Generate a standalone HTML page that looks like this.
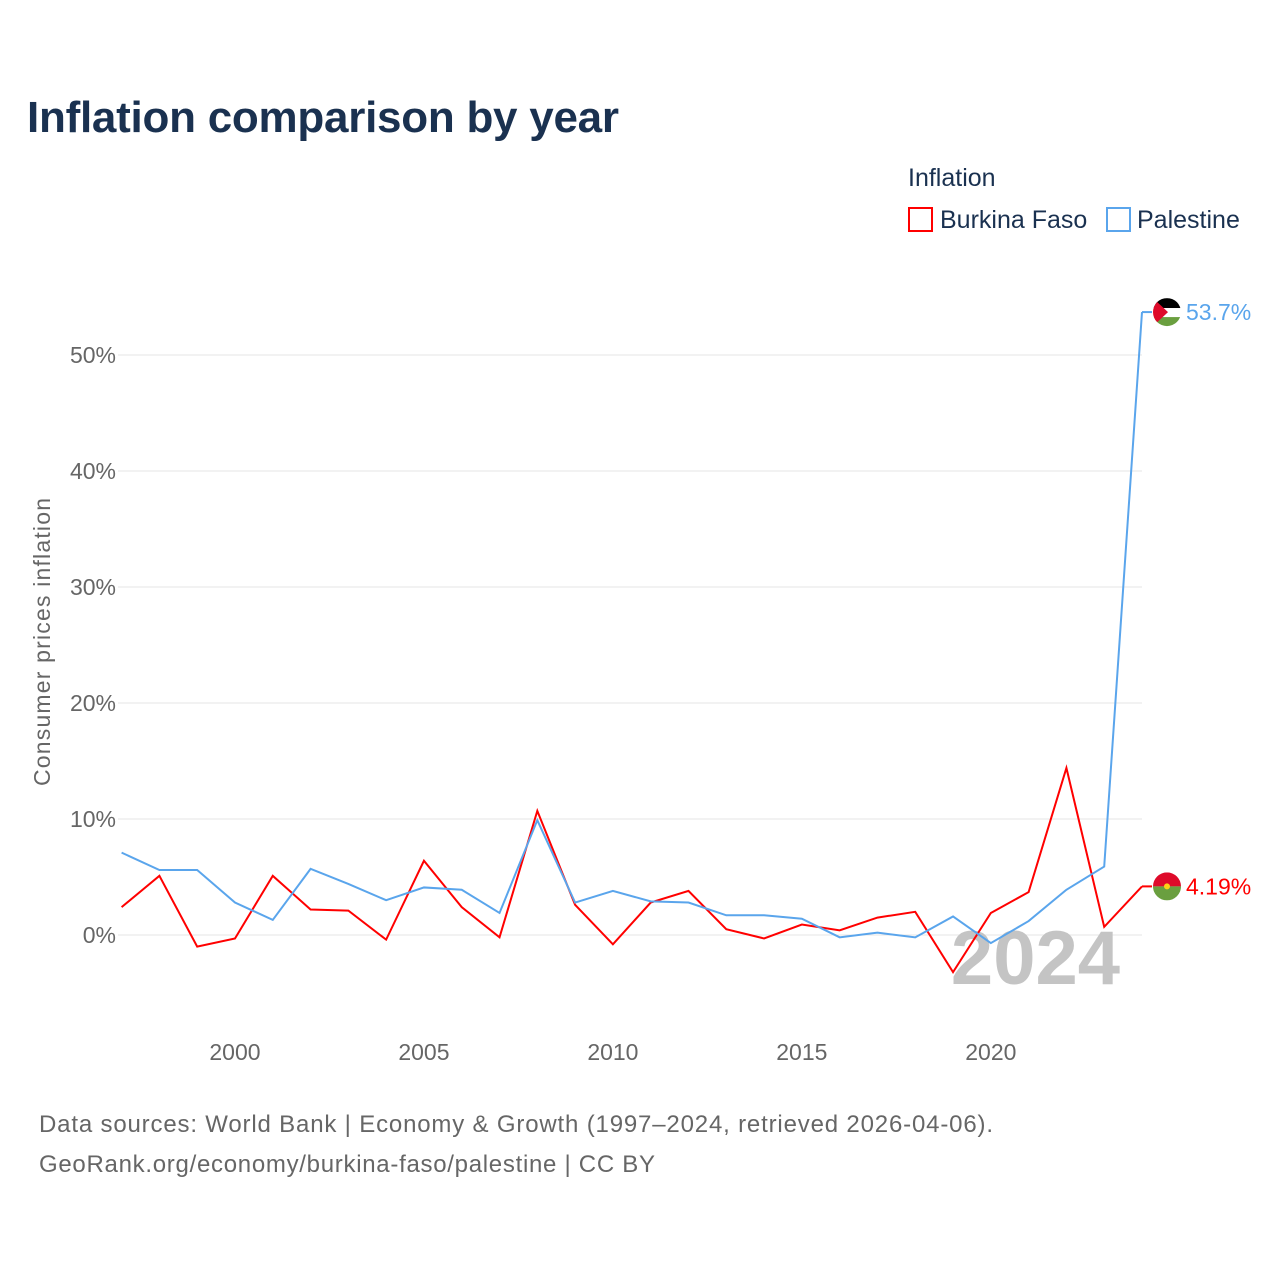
<!DOCTYPE html>
<html><head><meta charset="utf-8"><style>
body{margin:0;background:#fff;font-family:"Liberation Sans",sans-serif;}
#wrap{position:relative;width:1280px;height:1280px;overflow:hidden;}
</style></head><body>
<div id="wrap">
<svg id="chart" width="1280" height="1280" style="font-family:'Liberation Sans',sans-serif">
<text x="27" y="132" font-size="44" font-weight="bold" fill="#1a3150" textLength="592">Inflation comparison by year</text>
<text x="908" y="186" font-size="25" fill="#1a3150">Inflation</text>
<g><rect x="909" y="208" width="23" height="23" fill="none" stroke="#f00" stroke-width="2"/><text x="940" y="228" font-size="25" fill="#1a3150">Burkina Faso</text></g>
<g><rect x="1107" y="208" width="23" height="23" fill="none" stroke="#5aa5ec" stroke-width="2"/><text x="1137" y="228" font-size="25" fill="#1a3150">Palestine</text></g>
<text transform="translate(50,642) rotate(-90)" text-anchor="middle" font-size="23" fill="#666" textLength="288">Consumer prices inflation</text>
<g id="grid"></g><g id="yt"></g><g id="xt"></g>
<text x="1120" y="984" text-anchor="end" font-size="76" font-weight="bold" fill="#c4c4c4">2024</text>
<g id="series"></g><g id="ends"></g>
<text x="39" y="1132" font-size="24" fill="#666" textLength="954">Data sources: World Bank | Economy &amp; Growth (1997–2024, retrieved 2026-04-06).</text>
<text x="39" y="1172" font-size="24" fill="#666" textLength="616">GeoRank.org/economy/burkina-faso/palestine | CC BY</text>
</svg>
</div>
<script>
const years=[1997,1998,1999,2000,2001,2002,2003,2004,2005,2006,2007,2008,2009,2010,2011,2012,2013,2014,2015,2016,2017,2018,2019,2020,2021,2022,2023,2024];
const burkina=[2.4,5.1,-1.0,-0.3,5.1,2.2,2.1,-0.4,6.4,2.4,-0.2,10.7,2.6,-0.8,2.8,3.8,0.5,-0.3,0.9,0.4,1.5,2.0,-3.2,1.9,3.7,14.4,0.7,4.19];
const palestine=[7.1,5.6,5.6,2.8,1.3,5.7,4.4,3.0,4.1,3.9,1.9,9.9,2.8,3.8,2.9,2.8,1.7,1.7,1.4,-0.2,0.2,-0.2,1.6,-0.7,1.2,3.9,5.9,53.7];
const yTicks=[0,10,20,30,40,50];
const yLabels=["0%","10%","20%","30%","40%","50%"];
const xTicks=[2000,2005,2010,2015,2020];
const endLabels=["4.19%","53.7%"];
const NS="http://www.w3.org/2000/svg";
const xs=y=>121.6+(y-1997)*(1142-121.6)/27;
const ys=v=>935-v*11.6;
function mk(t,a,p){const e=document.createElementNS(NS,t);for(const k in a)e.setAttribute(k,a[k]);p.appendChild(e);return e;}
const g=document.getElementById('grid'),yt=document.getElementById('yt'),xt=document.getElementById('xt');
yTicks.forEach((v,i)=>{
 const l=mk('line',{x1:118,x2:1142,y1:ys(v),y2:ys(v),stroke:'#e6e6e6','stroke-width':1},g);
 
 
 const t=mk('text',{x:116,y:ys(v)+8,'text-anchor':'end','font-size':23,fill:'#666'},yt);
 t.textContent=yLabels[i];
 
 
});
xTicks.forEach(v=>{
 const t=mk('text',{x:xs(v),y:1060,'text-anchor':'middle','font-size':23,fill:'#666'},xt);
 t.textContent=v;
 
 
});
const S=document.getElementById('series'),E=document.getElementById('ends');
[[burkina,'#f00','burkina-faso',0],[palestine,'#5aa5ec','palestine',1]].forEach(([d,c,n,i])=>{
 const pts=d.map((v,k)=>xs(years[k])+','+ys(v)).join(' ');
 const p=mk('polyline',{points:pts,fill:'none',stroke:c,'stroke-width':2,'stroke-linejoin':'miter'},S);
 
 
 const last=d[d.length-1],lx=xs(years[years.length-1]),ly=ys(last);
 mk('line',{x1:lx,x2:lx+10,y1:ly,y2:ly,stroke:c,'stroke-width':2},E);
 const fg=mk('g',{},E);
 
 
 const cx=lx+25,cy=ly,r=14;
 const cp=mk('clipPath',{id:'cp'+i},fg);mk('circle',{cx:cx,cy:cy,r:r},cp);
 const gg=mk('g',{'clip-path':'url(#cp'+i+')'},fg);
 if(i==0){mk('rect',{x:cx-r,y:cy-r,width:2*r,height:r,fill:'#de0a2a'},gg);mk('rect',{x:cx-r,y:cy,width:2*r,height:r,fill:'#6a9f3f'},gg);mk('circle',{cx:cx,cy:cy,r:3,fill:'#fcd116'},gg);}
 else{mk('rect',{x:cx-r,y:cy-r,width:2*r,height:10,fill:'#000'},gg);mk('rect',{x:cx-r,y:cy-r+10,width:2*r,height:9,fill:'#fff'},gg);mk('rect',{x:cx-r,y:cy-r+19,width:2*r,height:10,fill:'#6a9f3f'},gg);mk('polygon',{points:(cx-r)+','+(cy-r)+' '+(cx+1)+','+cy+' '+(cx-r)+','+(cy+r),fill:'#de0a2a'},gg);}
 const t=mk('text',{x:cx+19,y:cy+8,'font-size':23,fill:c},E);
 t.textContent=endLabels[i];
 
 
});
</script>
</body></html>
